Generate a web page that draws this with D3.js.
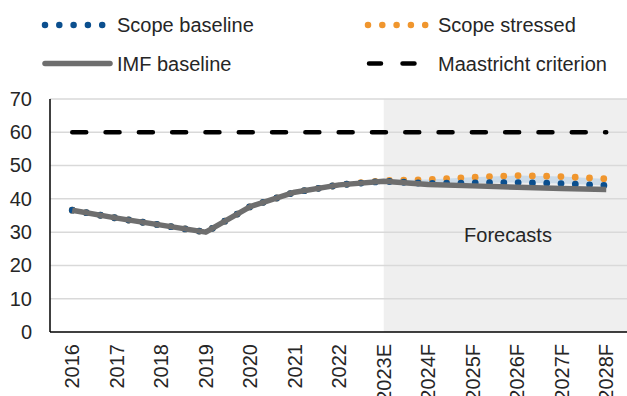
<!DOCTYPE html>
<html><head><meta charset="utf-8">
<script src="https://cdn.jsdelivr.net/npm/d3@7"></script>
<style>
html,body{margin:0;padding:0;background:#fff;}
svg{display:block;font-family:"Liberation Sans",Arial,sans-serif;}
</style></head>
<body>
<svg id="chart" width="627" height="396"></svg>
<script>
const categories = ["2016","2017","2018","2019","2020","2021","2022","2023E","2024F","2025F","2026F","2027F","2028F"];
const scopeBaseline = [36.6,34.2,32.1,30.0,37.7,42.0,44.2,45.3,44.6,44.8,44.9,44.6,44.0];
const scopeStressed = [36.6,34.2,32.1,30.0,37.7,42.0,44.2,45.5,45.8,46.5,47.0,46.7,46.0];
const imfBaseline   = [36.6,34.2,32.1,30.0,37.7,42.0,44.2,45.3,44.3,43.9,43.5,43.1,42.8];
const maastricht    = [60,60,60,60,60,60,60,60,60,60,60,60,60];
const yTicks = [0,10,20,30,40,50,60,70];
const forecastStart = "2023E";
const forecastLabel = "Forecasts";

const svg = d3.select("#chart");
const pLeft = 50, pRight = 628.5, pTop = 99, pBottom = 332;
const x = d3.scaleBand().domain(categories).range([pLeft, pRight]);
const y = d3.scaleLinear().domain([0,70]).range([pBottom, pTop]);
const cx = c => x(c) + x.bandwidth()/2;
const textColor = "#262626";
const blue = "#0b4f8e", orange = "#f0962e", grey = "#6e6e6e";

// forecast shading
svg.append("rect")
  .attr("x", cx(forecastStart)).attr("y", y(70))
  .attr("width", pRight - cx(forecastStart)).attr("height", y(0) - y(70))
  .attr("fill", "#efefef");

// gridlines
svg.append("g").selectAll("line").data(yTicks.filter(d => d > 0)).join("line")
  .attr("x1", pLeft).attr("x2", pRight)
  .attr("y1", d => y(d)).attr("y2", d => y(d))
  .attr("stroke", "#d9d9d9").attr("stroke-width", 1.5);

// y axis labels
const yAxis = d3.axisLeft(y).tickValues(yTicks).tickSize(0).tickPadding(18);
const gy = svg.append("g").attr("transform", `translate(${pLeft},0)`).call(yAxis);
gy.select(".domain").remove();
gy.selectAll("text").attr("font-size", 20).attr("fill", textColor)
  .attr("font-family", "Liberation Sans, Arial, sans-serif");

// x axis labels
const gx = svg.append("g").attr("transform", `translate(0,${pBottom})`)
  .call(d3.axisBottom(x).tickSize(0).tickFormat(d => d));
gx.select(".domain").remove();
gx.selectAll("text")
  .attr("font-size", 20).attr("fill", textColor)
  .attr("font-family", "Liberation Sans, Arial, sans-serif")
  .attr("text-anchor", "end")
  .attr("transform", "rotate(-90)")
  .attr("x", -12).attr("y", 0).attr("dy", "0.35em");

// band between scope series
const idx = categories.map((c,i) => i);
svg.append("path").datum(idx)
  .attr("d", d3.area().x(i => cx(categories[i])).y0(i => y(scopeBaseline[i])).y1(i => y(scopeStressed[i])))
  .attr("fill", "#c8d8e7").attr("opacity", 0.9);

const dotSpacing = 14.3;
const lineGen = arr => d3.line().x(i => cx(categories[i])).y(i => y(arr[i]))(idx);

// Maastricht dashed line
svg.append("path").attr("d", lineGen(maastricht))
  .attr("fill", "none").attr("stroke", "#000").attr("stroke-width", 4.5)
  .attr("stroke-linecap", "round")
  .attr("stroke-dasharray", "14,19.3");

// scope stressed (orange dotted)
svg.append("path").attr("d", lineGen(scopeStressed))
  .attr("fill", "none").attr("stroke", orange).attr("stroke-width", 6.8)
  .attr("stroke-linecap", "round").attr("stroke-dasharray", `0,${dotSpacing}`);

// scope baseline (blue dotted)
svg.append("path").attr("d", lineGen(scopeBaseline))
  .attr("fill", "none").attr("stroke", blue).attr("stroke-width", 6.8)
  .attr("stroke-linecap", "round").attr("stroke-dasharray", `0,${dotSpacing}`);

// IMF baseline
svg.append("path").attr("d", lineGen(imfBaseline))
  .attr("fill", "none").attr("stroke", grey).attr("stroke-width", 5.5)
  .attr("stroke-linejoin", "round");

// axes lines
svg.append("line").attr("x1", pLeft).attr("x2", pLeft).attr("y1", pTop).attr("y2", pBottom)
  .attr("stroke", "#000").attr("stroke-width", 1.5);
svg.append("line").attr("x1", pLeft).attr("x2", pRight).attr("y1", pBottom).attr("y2", pBottom)
  .attr("stroke", "#000").attr("stroke-width", 1.5);

// Forecasts label
svg.append("text").attr("x", 508).attr("y", 242).attr("text-anchor", "middle")
  .attr("font-size", 20).attr("fill", textColor).text(forecastLabel);

// legend
const legendItems = [
  {name:"Scope baseline", x:45, tx:117, y:25, type:"dot", color:blue},
  {name:"Scope stressed", x:368, tx:438, y:25, type:"dot", color:orange},
  {name:"IMF baseline", x:45, tx:117, y:63.5, type:"solid", color:grey},
  {name:"Maastricht criterion", x:369, tx:438, y:63.5, type:"dash", color:"#000"}
];
const lg = svg.append("g");
legendItems.forEach(it => {
  const g = lg.append("g");
  if (it.type === "dot") {
    g.append("line").attr("x1", it.x).attr("x2", it.x + 57.5).attr("y1", it.y).attr("y2", it.y)
      .attr("stroke", it.color).attr("stroke-width", 6.5).attr("stroke-linecap", "round")
      .attr("stroke-dasharray", "0,14.3");
  } else if (it.type === "solid") {
    g.append("line").attr("x1", it.x).attr("x2", it.x + 65).attr("y1", it.y).attr("y2", it.y)
      .attr("stroke", it.color).attr("stroke-width", 5.5).attr("stroke-linecap", "round");
  } else {
    g.append("line").attr("x1", it.x).attr("x2", it.x + 45.5).attr("y1", it.y).attr("y2", it.y)
      .attr("stroke", it.color).attr("stroke-width", 4.5).attr("stroke-linecap", "round")
      .attr("stroke-dasharray", "12,21.5");
  }
  g.append("text").attr("x", it.tx).attr("y", it.y).attr("dy", "0.35em")
    .attr("font-size", 20).attr("fill", textColor).text(it.name);
});
</script>
</body></html>
